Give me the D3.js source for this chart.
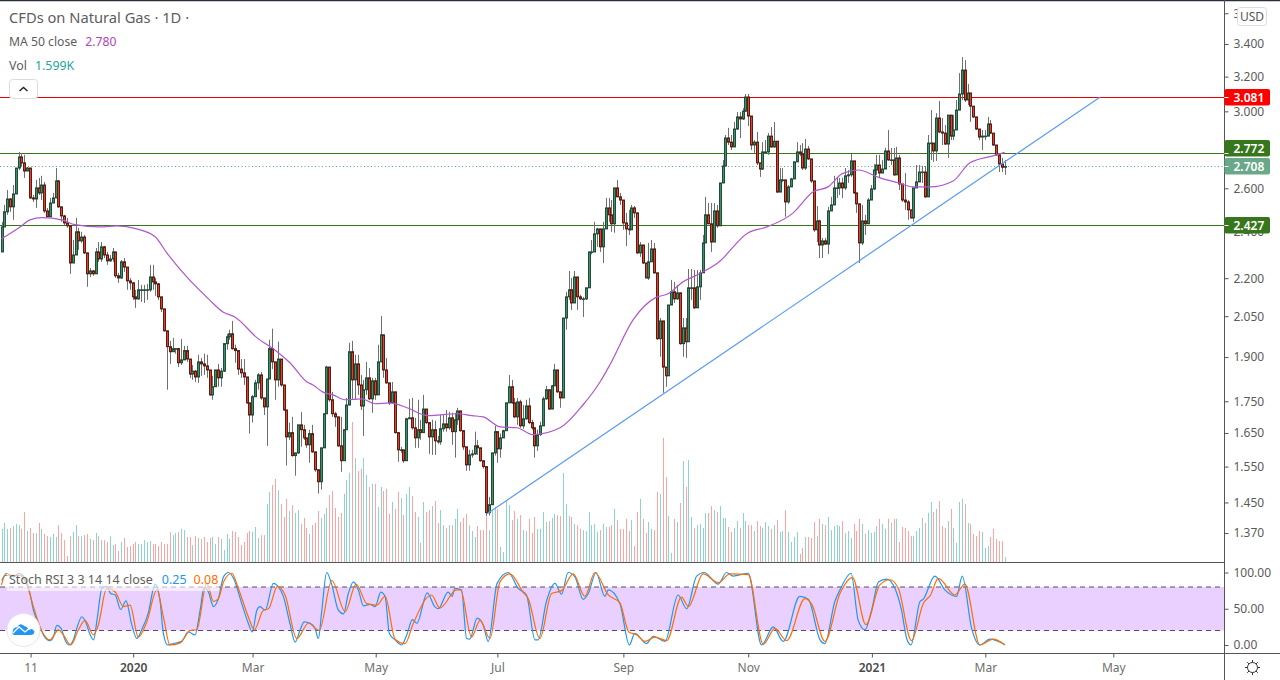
<!DOCTYPE html>
<html><head><meta charset="utf-8">
<script src="https://cdn.jsdelivr.net/npm/d3@7"></script>
<style>html,body{margin:0;padding:0;background:#fff;overflow:hidden}svg{display:block}text{font-family:"Noto Sans",sans-serif}</style>
</head><body><svg id="c" width="1280" height="680"></svg>
<script>
const firstOpen = 2.310;
const closes = [2.420,2.489,2.549,2.512,2.573,2.700,2.756,2.726,2.685,2.700,2.554,2.549,2.602,2.578,2.616,2.493,2.466,2.530,2.554,2.636,
2.512,2.470,2.438,2.425,2.263,2.297,2.398,2.358,2.375,2.306,2.218,2.230,2.218,2.310,2.280,2.332,2.297,2.272,2.280,2.310,
2.210,2.201,2.268,2.246,2.189,2.181,2.125,2.117,2.153,2.153,2.153,2.153,2.205,2.185,2.177,2.125,2.078,1.995,1.937,1.919,
1.930,1.930,1.880,1.890,1.923,1.893,1.841,1.851,1.831,1.883,1.876,1.869,1.855,1.771,1.798,1.855,1.828,1.851,1.948,1.973,
1.984,1.930,1.923,1.858,1.845,1.831,1.745,1.706,1.765,1.811,1.838,1.761,1.732,1.824,1.930,1.883,1.821,1.893,1.804,1.722,
1.638,1.651,1.582,1.590,1.675,1.660,1.635,1.614,1.648,1.593,1.541,1.507,1.605,1.710,1.865,1.755,1.710,1.700,1.611,1.567,
1.660,1.738,1.919,1.821,1.876,1.804,1.735,1.788,1.828,1.758,1.818,1.771,1.883,1.980,1.855,1.811,1.745,1.781,1.651,1.599,
1.599,1.567,1.694,1.697,1.666,1.635,1.660,1.651,1.725,1.682,1.638,1.660,1.626,1.623,1.663,1.678,1.666,1.697,1.654,1.691,
1.719,1.657,1.608,1.555,1.584,1.587,1.611,1.605,1.567,1.550,1.423,1.444,1.590,1.654,1.602,1.635,1.657,1.745,1.798,1.745,
1.700,1.748,1.672,1.694,1.735,1.682,1.666,1.611,1.645,1.672,1.758,1.788,1.725,1.801,1.855,1.781,1.761,2.043,2.125,2.153,
2.101,2.205,2.125,2.117,2.117,2.161,2.310,2.310,2.389,2.411,2.332,2.411,2.507,2.475,2.434,2.602,2.559,2.544,2.438,2.411,
2.407,2.507,2.484,2.306,2.340,2.263,2.201,2.268,2.323,2.222,1.966,2.032,1.865,1.835,2.093,2.145,2.117,2.141,1.948,2.006,
1.955,2.161,2.161,2.082,2.165,2.222,2.349,2.475,2.434,2.353,2.493,2.425,2.626,2.710,2.855,2.833,2.808,2.903,2.969,2.958,
3.001,3.081,2.974,2.818,2.833,2.726,2.695,2.782,2.782,2.865,2.808,2.838,2.582,2.641,2.641,2.535,2.607,2.646,2.731,2.782,
2.772,2.700,2.797,2.746,2.636,2.407,2.447,2.340,2.358,2.344,2.493,2.521,2.602,2.602,2.626,2.602,2.661,2.666,2.736,2.578,
2.526,2.349,2.447,2.434,2.544,2.597,2.690,2.715,2.675,2.695,2.787,2.741,2.741,2.666,2.751,2.621,2.544,2.535,2.498,2.461,
2.602,2.631,2.680,2.680,2.559,2.828,2.828,2.787,2.963,2.887,2.881,2.823,2.979,2.865,2.898,3.007,3.098,3.239,3.064,3.104,
3.029,2.969,2.903,2.860,2.865,2.865,2.930,2.881,2.818,2.767,2.720,2.704,2.708];
const highs = [2.443,2.521,2.592,2.554,2.616,2.700,2.782,2.777,2.767,2.705,2.700,2.568,2.641,2.651,2.661,2.631,2.507,2.554,2.578,2.700,
2.641,2.512,2.475,2.461,2.425,2.362,2.461,2.416,2.398,2.384,2.306,2.242,2.234,2.327,2.353,2.353,2.336,2.310,2.297,2.327,
2.310,2.222,2.276,2.284,2.246,2.201,2.185,2.153,2.193,2.173,2.173,2.177,2.255,2.255,2.201,2.181,2.125,2.078,1.995,1.958,
1.969,1.930,1.933,1.965,1.940,1.940,1.893,1.872,1.855,1.908,1.897,1.912,1.908,1.855,1.835,1.855,1.876,1.862,1.948,1.984,
1.999,2.032,1.944,1.923,1.893,1.893,1.831,1.745,1.771,1.821,1.845,1.848,1.761,1.824,1.962,2.003,1.883,1.955,1.893,1.804,
1.722,1.682,1.700,1.590,1.675,1.716,1.675,1.635,1.660,1.675,1.593,1.541,1.605,1.710,1.869,1.865,1.781,1.716,1.700,1.700,
1.660,1.761,1.951,1.958,1.908,1.908,1.838,1.821,1.883,1.862,1.828,1.828,1.944,2.051,1.980,1.897,1.811,1.814,1.781,1.651,
1.608,1.599,1.697,1.758,1.761,1.697,1.755,1.691,1.771,1.725,1.682,1.691,1.688,1.641,1.706,1.706,1.722,1.716,1.713,1.713,
1.729,1.719,1.657,1.608,1.599,1.599,1.654,1.629,1.605,1.567,1.550,1.465,1.590,1.672,1.654,1.648,1.660,1.745,1.838,1.821,
1.761,1.761,1.755,1.738,1.755,1.761,1.691,1.666,1.660,1.685,1.765,1.801,1.788,1.804,1.876,1.855,1.781,2.043,2.145,2.230,
2.201,2.230,2.205,2.133,2.125,2.161,2.310,2.362,2.443,2.416,2.411,2.443,2.554,2.554,2.544,2.602,2.641,2.578,2.544,2.484,
2.498,2.521,2.516,2.484,2.353,2.340,2.263,2.349,2.362,2.349,2.222,2.043,2.032,1.865,2.093,2.193,2.185,2.173,2.141,2.043,
2.043,2.238,2.238,2.234,2.234,2.234,2.384,2.559,2.530,2.530,2.530,2.521,2.626,2.741,2.871,2.909,2.871,2.941,2.996,2.996,
3.018,3.098,3.098,2.974,2.844,2.887,2.726,2.833,2.844,2.881,2.914,2.941,2.838,2.700,2.700,2.641,2.616,2.651,2.731,2.833,
2.818,2.828,2.850,2.813,2.746,2.636,2.516,2.452,2.371,2.371,2.512,2.559,2.661,2.651,2.651,2.651,2.700,2.690,2.772,2.736,
2.578,2.526,2.521,2.475,2.554,2.616,2.720,2.767,2.767,2.741,2.803,2.898,2.803,2.803,2.808,2.767,2.621,2.675,2.544,2.498,
2.602,2.715,2.715,2.710,2.710,2.871,3.007,2.828,2.990,3.058,2.963,2.925,2.979,2.979,2.979,3.064,3.221,3.318,3.300,3.156,
3.104,3.029,2.969,2.903,2.898,2.898,2.969,2.952,2.881,2.818,2.767,2.751,2.741];
const lows = [2.310,2.420,2.475,2.489,2.452,2.573,2.690,2.710,2.651,2.685,2.549,2.535,2.507,2.568,2.544,2.484,2.466,2.466,2.530,2.554,
2.507,2.443,2.429,2.416,2.218,2.263,2.297,2.319,2.349,2.301,2.165,2.205,2.210,2.218,2.268,2.268,2.284,2.255,2.268,2.268,
2.201,2.181,2.197,2.226,2.153,2.153,2.113,2.082,2.113,2.105,2.101,2.113,2.145,2.153,2.129,2.113,2.066,1.992,1.788,1.876,
1.919,1.912,1.865,1.872,1.890,1.883,1.828,1.821,1.814,1.811,1.835,1.838,1.828,1.768,1.755,1.804,1.798,1.798,1.848,1.926,
1.962,1.926,1.880,1.838,1.828,1.804,1.742,1.648,1.682,1.765,1.788,1.755,1.706,1.611,1.824,1.858,1.755,1.798,1.798,1.719,
1.553,1.629,1.579,1.524,1.587,1.608,1.629,1.605,1.561,1.590,1.535,1.474,1.485,1.605,1.710,1.748,1.700,1.669,1.608,1.535,
1.567,1.660,1.738,1.755,1.755,1.771,1.722,1.641,1.771,1.755,1.713,1.755,1.771,1.883,1.828,1.808,1.738,1.745,1.648,1.564,
1.590,1.561,1.567,1.694,1.660,1.605,1.605,1.629,1.651,1.678,1.587,1.584,1.584,1.617,1.614,1.654,1.654,1.660,1.614,1.576,
1.675,1.654,1.599,1.538,1.538,1.576,1.584,1.584,1.564,1.544,1.415,1.415,1.444,1.582,1.561,1.576,1.635,1.657,1.745,1.742,
1.697,1.675,1.666,1.663,1.691,1.678,1.660,1.576,1.596,1.641,1.672,1.755,1.722,1.725,1.801,1.778,1.729,1.761,1.999,2.113,
2.074,2.101,2.074,2.113,2.047,2.113,2.161,2.300,2.310,2.332,2.310,2.263,2.416,2.443,2.398,2.394,2.559,2.521,2.407,2.336,
2.384,2.407,2.461,2.301,2.289,2.259,2.201,2.193,2.268,2.218,1.962,1.901,1.778,1.798,1.835,2.093,2.101,2.113,1.944,1.901,
1.897,1.955,2.113,2.078,2.082,2.113,2.222,2.349,2.434,2.310,2.353,2.416,2.425,2.626,2.710,2.818,2.792,2.808,2.898,2.855,
2.952,2.996,2.919,2.792,2.777,2.715,2.656,2.690,2.777,2.767,2.803,2.803,2.578,2.582,2.630,2.466,2.526,2.607,2.646,2.731,
2.761,2.690,2.690,2.741,2.626,2.398,2.353,2.284,2.284,2.340,2.301,2.493,2.521,2.554,2.568,2.554,2.592,2.626,2.656,2.573,
2.484,2.263,2.340,2.384,2.434,2.544,2.592,2.666,2.651,2.680,2.695,2.736,2.715,2.661,2.666,2.592,2.535,2.498,2.452,2.457,
2.443,2.602,2.641,2.626,2.554,2.559,2.741,2.731,2.736,2.881,2.818,2.818,2.751,2.844,2.844,2.898,3.007,3.064,3.052,3.035,
2.941,2.963,2.898,2.844,2.792,2.844,2.865,2.876,2.813,2.761,2.680,2.680,2.666];
const volumes = [10.6,12.5,10.6,10.9,11.5,12.2,11.8,10.6,16,9.9,10.9,9.3,9.3,12.5,10.6,9,8.3,8,9,8,11.8,9.3,7,1.9,8.3,9.6,11.8,8.3,8.3,8.6,9,7.4,7,9.3,8.3,7,7,6.4,8.3,5.4,5.8,3.5,6.4,7.7,4.8,5.1,5.8,6.4,5.8,5.8,7,6.4,6.7,5.8,5.8,5.1,6.4,5.8,5.8,9.6,8.6,9.3,9.6,10.6,10.2,8,8,5.4,8.3,7.7,7.4,8,6.4,7.7,8,5.8,8,7.4,3.8,9,7.4,9.9,9.6,8,5.4,6.4,9.3,9.9,9.6,11.2,7.7,8.6,8.6,18.6,22.4,24.6,26.6,23,18.6,14.4,20.2,16.3,18.2,15.7,16.6,12.2,14.1,10.9,9,
11.8,12.5,16.3,14.1,15.4,17.3,21.4,22.7,17.3,14.4,15.7,21.8,26.2,28.5,44.8,33.3,29.1,29.8,33.3,27.8,24,25,25,17.6,24,22.7,23.4,15.4,19.2,17,22.4,20.5,15,21.8,24,21.1,16,14.4,6.1,19.2,16,16.6,17.9,19.5,12.5,16.6,11.8,10.9,11.8,11.8,13.8,17,12.8,14.1,15.4,11.8,9.9,8,11.5,10.2,10.2,17,10.2,16.6,17.6,17,4.8,3.2,19.8,18.2,13.4,16.3,13.8,15,10.2,9.9,13.8,9.3,14.4,10.6,10.6,16,12.8,13.1,14.1,15.4,15,14.7,28.5,18.6,14.7,14.4,12.2,11.8,10.6,10.2,9.9,16,11.8,12.2,9.6,10.2,12.2,11.2,11.2,
11.8,17,13.4,10.6,10.6,13.8,9.9,13.4,5.1,16,20.2,13.8,9.3,12.8,10.6,10.2,22.4,21.8,39.7,27.2,14.7,2.9,13.8,12.8,18.9,32.3,24,32.6,14.4,10.9,11.8,12.2,10.9,15.7,15.7,17.9,16.6,16,17.9,14.1,14.1,11.2,9.6,10.9,13.1,10.9,15.7,13.1,11.8,11.8,9.9,13.1,11.5,10.9,12.8,11.5,10.6,11.8,13.4,9.6,9.9,16.6,9.6,6.4,8,9.6,2.6,4.5,8,8,7.7,12.8,8.3,13.8,12.2,11.8,14.4,10.2,11.5,11.8,11.5,13.1,9.3,9.9,7.7,12.2,9.9,13.8,12.2,9,10.2,9.3,9.6,11.5,13.8,12.2,10.6,13.8,12.5,13.8,13.8,6.4,11.2,10.9,9.9,8.3,8.3,9.9,10.9,14.1,12.5,15.7,19.2,16,17,19.5,11.5,10.9,13.1,17,10.9,6.1,19.2,20.2,18.6,12.5,12.2,9,8.3,9.9,9.6,4.5,5.1,8,10.6,7.4,6.7,6.7,1.6];
const maBars = [0,6.5,10,14.2,21.2,25.8,34.6,40.5,47.5,53.9,58,65,73,77.7,81.9,89.6,96.7,101.2,107.2,109.3,112.8,116.3,120.5,126.5,131,136.3,142.3,149.6,159.8,165.1,169,174.9,180.9,186.5,196,204,210,213.5,221.6,229.3,233.9,239.1,244,251.4,261.9,268.6,277.7,284.8,290,295,300.5,308.3,314.6,319.8,325.8,333.9,339.8,347.9,352];
const maVals = [2.367,2.42,2.452,2.462,2.452,2.43,2.42,2.425,2.411,2.376,2.306,2.205,2.113,2.066,2.047,1.97,1.919,1.88,1.814,1.804,1.78,1.771,1.755,1.758,1.742,1.745,1.729,1.704,1.71,1.704,1.7,1.669,1.666,1.645,1.666,1.738,1.814,1.873,2.036,2.121,2.137,2.185,2.213,2.264,2.393,2.42,2.483,2.583,2.607,2.672,2.69,2.651,2.627,2.607,2.607,2.636,2.726,2.762,2.78];
const trendBars = [170.4,385.4];
const trendVals = [1.42,3.08];
const levels = [3.081,2.772,2.427];
const lastPrice = 2.708;
const priceTicks = [3.6,3.4,3.2,3.0,2.6,2.4,2.2,2.05,1.9,1.75,1.65,1.55,1.45,1.37];
const stochTicks = [100,50,0];
const timeTickBars = [10.2,46.2,88.1,131.3,174,218.2,262,305.4,345.2,390.1];
const timeTickLabels = ["11","2020","Mar","May","Jul","Sep","Nov","2021","Mar","May"];
const kBars = [0.1,1.8,4.2,6,8.3,10,11.2,13,14.7,17,18.2,19.4,20.9,22.3,23.7,25.2,26.4,28.2,29.7,31.1,32.3,33.6,35.2,36.9,38.3,39.9,41.8,43.7,45.7,47.5,49.2,51.5,53.9,55.6,56.8,58.3,60.3,63.2,65.6,67.9,69.7,71.1,72.6,74.4,76.1,77.9,79.6,81.4,84.3,86.6,88,89.6,90.7,92.5,95.4,97.2,98.9,101.3,103,104.8,106.2,108.3,110,111.2,112.4,114.1,115.9,118.2,120,121.7,123.5,125.2,127,129.3,131.1,133.1,134.6,136.1,138.1,140.4,142.2,144.2,145.7,
149.4,152,153.2,156.7,158.1,159.1,161.4,163.2,164.3,166.9,169,170.8,173.9,177.8,181.3,184.2,187.2,188.3,191.2,194.2,196.5,198.8,201.2,204.1,205.9,208.6,211.7,212.9,217,220.3,222.2,226.3,228.7,232.8,237.4,240.4,243.9,246.6,251.5,254.4,256.7,262,266.7,270.8,274.3,280.1,283.1,287.2,288.9,292.4,294.2,298.1,300.6,303,305.3,307.7,310.6,313.5,315.8,317.6,319.1,322.3,323.4,327.5,331,335.1,337.1,340.4,343.3,346.8,352.1];
const kVals = [89,99,94,99,92,71,48,30,14,6,11,27,23,7,0,7,23,39,30,14,7,37,78,81,71,69,49,61,28,9,21,44,84,62,16,0,2,5,18,14,48,80,73,53,64,94,100,92,57,30,18,48,53,48,85,80,67,28,4,21,32,30,23,9,48,100,83,48,43,71,87,76,54,56,53,73,67,16,7,0,14,35,30,
72,53,50,73,67,78,76,9,8,37,28,5,85,100,78,69,7,7,60,85,70,100,94,63,71,100,67,76,57,0,16,2,12,5,69,50,95,100,84,100,95,99,0,25,5,67,63,7,2,60,76,99,34,21,48,87,91,78,48,9,0,60,63,95,76,67,95,23,0,8,0.25];
const dBars = [0,1.3,4.2,6.5,8.9,11.2,13.5,17,20,21.7,24.3,27,29.3,32.3,34,36.9,39.9,42.8,45.1,48,51,54.5,56.8,59.1,62.7,66.2,68.5,72,74.4,76.1,77.9,80.8,83.1,86.6,88.7,91.9,93.7,96.8,99.5,103.6,107.7,111.5,115.9,120.6,124.4,128.2,131.7,134.6,138.1,141.6,144.5,
150.9,153.8,159.7,161.1,164.9,167.9,171.4,174.9,178.4,183,184.8,188.9,193,196.5,200.6,204.7,208.2,212.9,217,220.1,222.8,225.8,229.3,233.4,238.6,241,246.2,251.5,255.6,262,267.3,271.4,275.5,281.9,284.2,288.9,294.2,298.6,303.3,308.2,311.7,314.7,319.3,323.4,326,328.7,334.5,338,343.3,348,352.1];
const dVals = [83,96,96,96,83,53,25,7,21,14,0,21,34,14,28,78,73,53,55,11,32,76,39,0,3,20,21,85,60,64,87,99,78,39,21,48,50,81,69,9,30,20,89,46,84,57,55,67,8,2,30,
69,51,76,76,11,34,9,87,98,73,64,9,71,75,98,67,100,69,58,18,14,5,11,6,66,53,98,86,98,97,1,23,6,64,57,5,71,93,28,83,90,78,6,57,69,92,69,84,0,8,0.08];

const svg = d3.select("#c");
const AX = 1224.5;
const x = d3.scaleLinear().domain([0,350]).range([1.5,999]);
const y = d3.scaleLog().domain([3.4,1.37]).range([44,533]);
const v = d3.scaleLinear().domain([0,40]).range([562,437]);
const s = d3.scaleLinear().domain([0,100]).range([645,572.5]);
const opens = closes.map((c,i)=> i===0 ? firstOpen : closes[i-1]);
const n = closes.length;
const idx = d3.range(n);

svg.append("rect").attr("width",1280).attr("height",680).attr("fill","#fff");
svg.append("line").attr("x1",0).attr("x2",1280).attr("y1",0.5).attr("y2",0.5).attr("stroke","#2a2e39").attr("stroke-width",1.5);

// volume
svg.append("g").selectAll("rect").data(idx.filter(i=>i<volumes.length)).join("rect")
 .attr("x",i=>Math.round(x(i))).attr("width",1).attr("y",i=>v(volumes[i])).attr("height",i=>562-v(volumes[i]))
 .attr("fill",i=>closes[i]>=opens[i]?"#8fd4ca":"#fba5a3");

// levels
const levelCol = ["#e60000","#38761d","#38761d"];
svg.append("g").selectAll("line").data(levels).join("line").attr("x1",0).attr("x2",AX)
 .attr("y1",d=>Math.floor(y(d))+.5).attr("y2",d=>Math.floor(y(d))+.5).attr("stroke",(d,i)=>levelCol[i]).attr("stroke-width",1);
svg.append("line").attr("x1",0).attr("x2",AX).attr("y1",Math.floor(y(lastPrice))+.5).attr("y2",Math.floor(y(lastPrice))+.5)
 .attr("stroke","#5f9f82").attr("stroke-dasharray","1 2.5");

// wicks
svg.append("g").selectAll("line").data(idx).join("line")
 .attr("x1",i=>Math.round(x(i))+.5).attr("x2",i=>Math.round(x(i))+.5)
 .attr("y1",i=>y(highs[i])).attr("y2",i=>y(lows[i])).attr("stroke","#6f6f6f").attr("stroke-width",1);
// bodies
svg.append("g").selectAll("rect").data(idx).join("rect")
 .attr("x",i=>Math.round(x(i))-.5).attr("width",2)
 .attr("y",i=>Math.min(y(opens[i]),y(closes[i]))).attr("height",i=>Math.max(.6,Math.abs(y(opens[i])-y(closes[i]))))
 .attr("fill",i=>closes[i]>=opens[i]?"#3f8f68":"#e0402c")
 .attr("stroke",i=>closes[i]>=opens[i]?"#1f4d38":"#5c1c12").attr("stroke-width",1);

// MA and trend
const curve = d3.curveMonotoneX;
svg.append("path").attr("d",d3.line().curve(curve).x(i=>x(maBars[i])).y(i=>y(maVals[i]))(d3.range(maBars.length)))
 .attr("fill","none").attr("stroke","#b057cc").attr("stroke-width",1.2);
svg.append("path").attr("d",d3.line().x(i=>x(trendBars[i])).y(i=>y(trendVals[i]))(d3.range(2)))
 .attr("fill","none").attr("stroke","#5b9cf6").attr("stroke-width",1.2);

// price axis
const pa = svg.append("g").attr("transform",`translate(${AX},0)`)
 .call(d3.axisRight(y).tickValues(priceTicks).tickFormat(d=>d.toFixed(3)).tickSize(4).tickPadding(5));
pa.select(".domain").remove();
pa.selectAll("line").attr("stroke","#555");
pa.selectAll("text").attr("fill","#5b5b5b").attr("font-size",12).attr("font-family",'"Noto Sans",sans-serif');

// stoch pane
svg.append("rect").attr("x",0).attr("width",AX).attr("y",s(80)).attr("height",s(20)-s(80)).attr("fill","#e9d0ff");
[80,20].forEach(l=>svg.append("line").attr("x1",0).attr("x2",AX).attr("y1",s(l)).attr("y2",s(l)).attr("stroke","#5a4a68").attr("stroke-dasharray","5 4"));
svg.append("path").attr("d",d3.line().curve(curve).x(i=>x(kBars[i])).y(i=>s(kVals[i]))(d3.range(kBars.length)))
 .attr("fill","none").attr("stroke","#2196f3").attr("stroke-width",1.2);
svg.append("path").attr("d",d3.line().curve(curve).x(i=>x(dBars[i])).y(i=>s(dVals[i]))(d3.range(dBars.length)))
 .attr("fill","none").attr("stroke","#ff6d00").attr("stroke-width",1.2);
svg.append("rect").attr("x",7).attr("y",571).attr("width",212).attr("height",20).attr("fill","#fff").attr("opacity",.6);
const sa = svg.append("g").attr("transform",`translate(${AX},0)`)
 .call(d3.axisRight(s).tickValues(stochTicks).tickFormat(d=>d.toFixed(2)).tickSize(4).tickPadding(5));
sa.select(".domain").remove();
sa.selectAll("line").attr("stroke","#555");
sa.selectAll("text").attr("fill","#5b5b5b").attr("font-size",12).attr("font-family",'"Noto Sans",sans-serif');

// time axis
const ta = svg.append("g").attr("transform","translate(0,653.5)")
 .call(d3.axisBottom(x).tickValues(timeTickBars).tickFormat((d,i)=>timeTickLabels[i]).tickSize(4).tickPadding(6));
ta.select(".domain").remove();
ta.selectAll("line").attr("stroke","#555");
ta.selectAll("text").attr("fill",(d,i)=>/^\d{4}$/.test(timeTickLabels[i])?"#4a4a4a":"#6f6f6f")
 .attr("font-weight",(d,i)=>/^\d{4}$/.test(timeTickLabels[i])?600:400)
 .attr("font-size",12).attr("font-family",'"Noto Sans",sans-serif');

// frame lines
svg.append("line").attr("x1",0).attr("x2",AX).attr("y1",562.5).attr("y2",562.5).attr("stroke","#555");
svg.append("line").attr("x1",0).attr("x2",1280).attr("y1",653.5).attr("y2",653.5).attr("stroke","#555");
svg.append("line").attr("x1",AX).attr("x2",AX).attr("y1",0).attr("y2",680).attr("stroke","#555");

// price labels: the 2.772 tag sits above its level so it clears the 2.708 tag
const labelColors = ["#ff0000","#38761d","#6aa88a","#38761d"];
const labelPrices = [3.081,2.772,2.708,2.427];
const labelShift = [0,-5,0,0];
labelPrices.forEach((p,i)=>{
 const lineY=Math.floor(y(p))+.5, yy=lineY+labelShift[i];
 svg.append("rect").attr("x",AX).attr("y",yy-8.5).attr("width",45.5).attr("height",16.5).attr("rx",2).attr("fill",labelColors[i]);
 svg.append("line").attr("x1",AX).attr("x2",AX+4).attr("y1",lineY).attr("y2",lineY).attr("stroke","#fff");
 svg.append("text").attr("x",AX+9).attr("y",yy+4).attr("fill","#fff").attr("font-size",12).attr("font-weight",600).text(p.toFixed(3));
});
// USD button
svg.append("rect").attr("x",1237.5).attr("y",7.5).attr("width",29).attr("height",18).attr("rx",3).attr("fill","#fff").attr("stroke","#d9dbe6");
svg.append("text").attr("x",1252).attr("y",20.5).attr("text-anchor","middle").attr("font-size",12).attr("fill","#555").text("USD");

// legends
svg.append("text").attr("x",9).attr("y",23).attr("font-size",14.7).attr("fill","#5d5d5d").text("CFDs on Natural Gas · 1D ·");
const l2=svg.append("text").attr("x",9).attr("y",46).attr("font-size",12.2).attr("fill","#5d5d5d");
l2.append("tspan").text("MA 50 close");l2.append("tspan").attr("dx",8).attr("fill","#ab47bc").text("2.780");
const l3=svg.append("text").attr("x",9).attr("y",70).attr("font-size",12.4).attr("fill","#5d5d5d");
l3.append("tspan").text("Vol");l3.append("tspan").attr("dx",8).attr("fill","#26a69a").text("1.599K");
svg.append("rect").attr("x",9.5).attr("y",79.5).attr("width",28).attr("height",19).attr("rx",3).attr("fill","#fff").attr("stroke","#d9dbe6");
svg.append("path").attr("d","M19.5 91 L23.5 87.5 L27.5 91").attr("fill","none").attr("stroke","#222").attr("stroke-width",1.4);
const l4=svg.append("text").attr("x",9).attr("y",584).attr("font-size",12.5).attr("fill","#5d5d5d");
l4.append("tspan").text("Stoch RSI 3 3 14 14 close");l4.append("tspan").attr("dx",9).attr("fill","#2196f3").text("0.25");
l4.append("tspan").attr("dx",7).attr("fill","#ff6d00").text("0.08");

// logo
svg.append("circle").attr("cx",23.5).attr("cy",630).attr("r",16.5).attr("fill","#fff").attr("stroke","#e6e6ea");
svg.append("path").attr("d","M13 634 Q13 628 18 628 Q20 623 25 627 Q28 628 30 631 Q34 628 35 632 Q35 636 31 636 L16 636 Q13 636 13 634Z").attr("fill","#2196f3").attr("transform","translate(-0.5,-1)");
svg.append("path").attr("d","M13 633 L19 627 L25 632 L31 627 L35 631").attr("fill","none").attr("stroke","#fff").attr("stroke-width",1.3);

// settings icon
const gear=svg.append("g").attr("transform","translate(1252.5,667.5)").attr("stroke","#333").attr("fill","none");
gear.append("circle").attr("r",5);
d3.range(8).forEach(i=>{const a=i*Math.PI/4;gear.append("line").attr("x1",5*Math.cos(a)).attr("y1",5*Math.sin(a)).attr("x2",7.5*Math.cos(a)).attr("y2",7.5*Math.sin(a));});
</script></body></html>
